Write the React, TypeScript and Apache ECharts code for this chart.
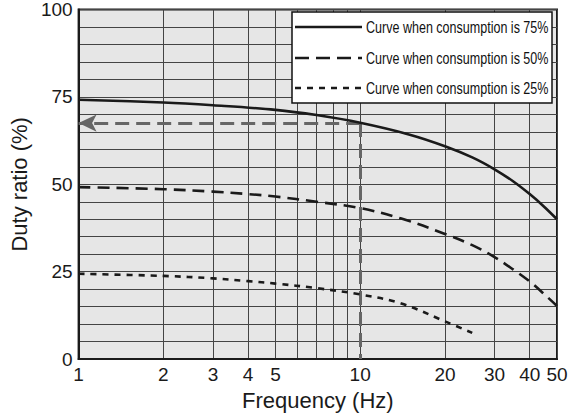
import React, { useEffect, useRef } from "react";
import * as echarts from "echarts";

const xTickValues = [1, 2, 3, 4, 5, 10, 20, 30, 40, 50];
const xGridValues = [1, 2, 3, 4, 5, 6, 7, 8, 9, 10, 20, 30, 40, 50];

const freq75 = [1, 2, 3, 5, 7, 10, 15, 20, 25, 30, 35, 40, 45, 50];
const duty75 = [74.2, 73.4, 72.6, 71.3, 69.8, 67.6, 64.2, 60.9, 57.7, 54.3, 50.8, 47.2, 43.6, 40.0];

const freq50 = [1, 2, 3, 4, 5, 7, 10, 14, 20, 25, 30, 35, 40, 45, 50];
const duty50 = [49.2, 48.6, 47.9, 47.2, 46.5, 45.0, 43.2, 40.2, 35.8, 32.6, 29.2, 25.6, 22.2, 18.6, 15.2];

const freq25 = [1, 2, 3, 4, 5, 7, 10, 14, 20, 25];
const duty25 = [24.4, 23.8, 23.1, 22.3, 21.6, 20.3, 18.5, 15.9, 10.8, 7.5];

const seriesNames = [
  "Curve when consumption is 75%",
  "Curve when consumption is 50%",
  "Curve when consumption is 25%",
];

const readFreq = 10;
const readDuty = 67.5;

const FONT = "'Liberation Sans', Arial, sans-serif";

function pairs(xs: number[], ys: number[]) {
  return xs.map((x, i) => [x, ys[i]]);
}

export default function App() {
  const ref = useRef<HTMLDivElement>(null);
  useEffect(() => {
    if (!ref.current) return;
    const chart = echarts.init(ref.current, null, { renderer: "svg" });
    const lineColor = "#1a1a1a";
    const legendRows = [27, 58, 88];
    const dashes: (number[] | null)[] = [null, [14, 7], [6, 6]];
    const graphic: any[] = [
      {
        type: "rect",
        shape: { x: 292, y: 12, width: 260, height: 91 },
        style: { fill: "#ffffff", stroke: "#111", lineWidth: 1.5 },
        z: 100,
      },
    ];
    seriesNames.forEach((name, i) => {
      graphic.push({
        type: "line",
        shape: { x1: 295, y1: legendRows[i], x2: 362, y2: legendRows[i] },
        style: { stroke: lineColor, lineWidth: 2.6, lineDash: dashes[i] || undefined },
        z: 101,
      });
      graphic.push({
        type: "text",
        x: 366,
        y: legendRows[i],
        scaleX: 0.76,
        style: {
          text: name,
          fontSize: 16.5,
          fontFamily: FONT,
          fill: "#111",
          verticalAlign: "middle",
          align: "left",
        },
        z: 101,
      });
    });

    const lineSeries = (i: number, xs: number[], ys: number[], type: any) => ({
      name: seriesNames[i],
      type: "line",
      data: pairs(xs, ys),
      smooth: 0.35,
      symbol: "none",
      lineStyle: { color: lineColor, width: 2.6, type },
      z: 5,
    });

    const s75: any = lineSeries(0, freq75, duty75, "solid");
    s75.markLine = {
      silent: true,
      symbol: ["none", "arrow"],
      symbolSize: [13, 18],
      label: { show: false },
      lineStyle: { color: "#666", width: 3, type: [14, 7] },
      emphasis: { disabled: true },
      data: [
        [{ coord: [readFreq, readDuty] }, { coord: [1, readDuty] }],
        [{ coord: [readFreq, readDuty], symbol: "none" }, { coord: [readFreq, 0], symbol: "none" }],
      ],
    };

    chart.setOption({
      animation: false,
      grid: {
        left: 72.5,
        right: 17,
        top: 6,
        bottom: 56.5,
        show: true,
        backgroundColor: "#e6e6e6",
        borderColor: "#1a1a1a",
        borderWidth: 2,
      },
      xAxis: {
        type: "log",
        logBase: 10,
        min: 1,
        max: 50,
        name: "Frequency (Hz)",
        nameLocation: "middle",
        nameGap: 24.5,
        nameTextStyle: { fontSize: 22, color: "#1a1a1a", fontFamily: FONT },
        axisLine: { show: true, lineStyle: { color: "#1a1a1a", width: 2 } },
        axisTick: { show: false, customValues: xGridValues },
        axisLabel: {
          customValues: xTickValues,
          fontSize: 19,
          color: "#1a1a1a",
          fontFamily: FONT,
          margin: 6,
          formatter: (v: number) => String(Math.round(v)),
        },
        splitLine: { show: true, lineStyle: { color: "#444", width: 1 } },
        minorTick: { show: false },
      },
      yAxis: {
        type: "value",
        min: 0,
        max: 100,
        interval: 5,
        name: "Duty ratio (%)",
        nameLocation: "middle",
        nameGap: 31,
        nameTextStyle: { fontSize: 22, color: "#1a1a1a", fontFamily: FONT },
        axisLine: { show: true, lineStyle: { color: "#1a1a1a", width: 2 } },
        axisTick: { show: false },
        axisLabel: {
          fontSize: 19,
          color: "#1a1a1a",
          fontFamily: FONT,
          margin: 6,
          formatter: (v: number) => (v % 25 === 0 ? String(v) : ""),
        },
        splitLine: { show: true, lineStyle: { color: "#444", width: 1 } },
      },
      series: [
        s75,
        lineSeries(1, freq50, duty50, [12, 7]),
        lineSeries(2, freq25, duty25, [6, 6]),
      ],
      graphic,
    });
    return () => chart.dispose();
  }, []);
  return <div ref={ref} style={{ width: 574, height: 416, position: "absolute", left: 0, top: 0 }} />;
}
